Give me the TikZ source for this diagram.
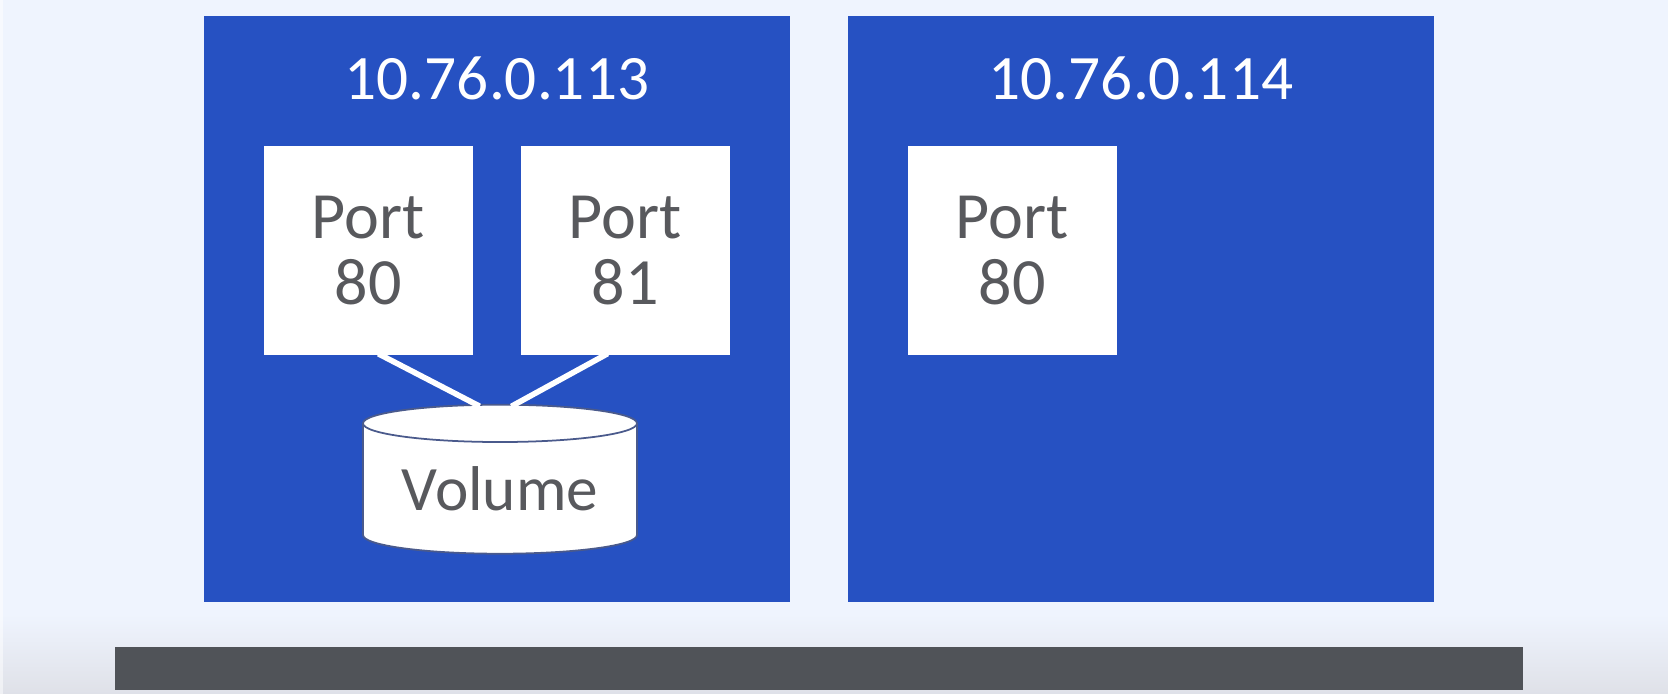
\documentclass[tikz,border=0pt]{standalone}
\usepackage{fontspec}
\setmainfont{Carlito}
\usepackage{tikz}
\usetikzlibrary{shapes.geometric}
\definecolor{pagebg}{HTML}{EFF4FE}
\definecolor{pagefoot}{HTML}{DFE1E8}
\definecolor{hostblue}{HTML}{2651C2}
\definecolor{bardark}{HTML}{505358}
\definecolor{textgrey}{HTML}{58595D}
\definecolor{rimblue}{HTML}{4A5A8C}

\begin{document}
\begin{tikzpicture}[host/.style={rectangle, fill=hostblue, minimum size=5.86cm, inner sep=0pt}, port/.style={rectangle, fill=white, text=textgrey, minimum size=2.09cm, inner sep=0pt, align=center, font=\fontsize{18.8}{18.8}\selectfont}, ip/.style={text=white, font=\fontsize{18}{20}\selectfont}, vol/.style={cylinder, shape border rotate=90, aspect=0.19, draw=rimblue, line width=0.5pt, cylinder uses custom fill, cylinder body fill=white, cylinder end fill=white, minimum width=2.74cm, minimum height=1.49cm, inner sep=0pt, text=textgrey, font=\fontsize{18}{20}\selectfont}, n/.style={draw=white, line width=1.6pt, shorten <=-1.5pt, shorten >=-1.5pt}]
                \useasboundingbox (0,0) rectangle (16.68,6.94);
                % background
                \fill[pagebg] (0,0) rectangle (16.68,6.94);
                \shade[top color=pagebg, bottom color=pagefoot] (0,0) rectangle (16.68,0.8);
                \fill[white, opacity=0.5] (0,0) rectangle (0.03,6.94);
                % nodes
                \node[host] (hosta) at (4.97,3.85) {};
                \node[host] (hostb) at (11.41,3.845) {};
                \node[rectangle, fill=bardark, minimum width=14.08cm, minimum height=0.43cm, inner sep=0pt] (bar) at (8.19,0.25) {};
                \node[ip] (ipa) at (4.97,6.16) {10.76.0.113};
                \node[ip] (ipb) at (11.41,6.16) {10.76.0.114};
                \node[port] (porta) at (3.68,4.43) {Port\\80};
                \node[port] (portb) at (6.25,4.43) {Port\\81};
                \node[port] (portc) at (10.12,4.43) {Port\\80};
                \node[vol] (volume) at (5.00,2.05) {Volume};
                % edges
                \draw [n] ([xshift=0.15cm]porta.south) -- ([xshift=-0.25cm]volume.north);
                \draw [n] ([xshift=-0.22cm]portb.south) -- ([xshift=0.16cm]volume.north);
            \end{tikzpicture}
\end{document}
